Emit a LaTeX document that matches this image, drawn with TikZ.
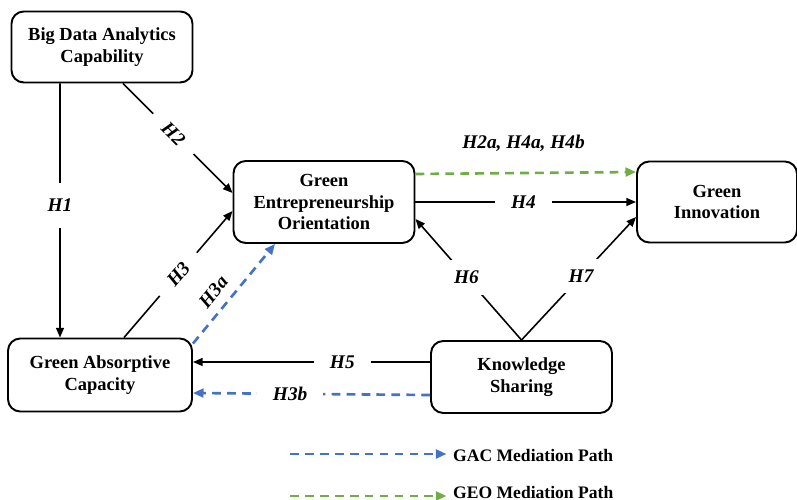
\documentclass[tikz,border=0pt]{standalone}
\usepackage{fontspec}
\setmainfont{Liberation Serif}
\usepackage{tikz}
\usetikzlibrary{arrows.meta}
\definecolor{gacblue}{RGB}{68,114,196}
\definecolor{geogreen}{RGB}{112,173,71}

\begin{document}
\begin{tikzpicture}[line width=0.9pt,
    box/.style={draw, line width=1.1pt, rounded corners=7pt, align=center, inner sep=2pt,
        font=\fontsize{10.5}{12.2}\selectfont\bfseries},
    link/.style={-{Triangle[length=5.5pt,width=4.5pt]}},
    gacpath/.style={gacblue, line width=1.5pt, dash pattern=on 5pt off 3.5pt, -{Triangle[length=6pt,width=5pt]}},
    geopath/.style={geogreen, line width=1.5pt, dash pattern=on 5pt off 3.5pt, -{Triangle[length=6pt,width=5pt]}},
    hyptext/.style={text=black, font=\fontsize{11}{13}\selectfont\bfseries\itshape},
    hyp/.style={hyptext, fill=white, inner xsep=0.32cm, inner ysep=1pt},
    legtext/.style={anchor=west, font=\fontsize{10}{12}\selectfont\bfseries}]
    \useasboundingbox (0,0) rectangle (15.94,-10);

    \node[box, minimum width=3.62cm, minimum height=1.42cm] (bdac) at (2.04,-0.94) {Big Data Analytics\\Capability};
    \node[box, minimum width=3.62cm, minimum height=1.64cm] (geo) at (6.48,-4.04) {Green\\Entrepreneurship\\Orientation};
    \node[box, minimum width=3.2cm, minimum height=1.62cm] (gi) at (14.34,-4.04) {Green\\Innovation};
    \node[box, minimum width=3.68cm, minimum height=1.46cm] (gac) at (2.0,-7.5) {Green Absorptive\\Capacity};
    \node[box, minimum width=3.62cm, minimum height=1.44cm] (ks) at (10.43,-7.54) {Knowledge\\Sharing};

    \draw[link] ([xshift=-0.84cm]bdac.south) -- ([xshift=-0.8cm]gac.north)
        node[hyp, pos=0.48, inner xsep=1pt, inner ysep=0.32cm] {H1};
    \draw[link] ([xshift=0.42cm]bdac.south) -- ([yshift=0.18cm]geo.west) node[hyp, pos=0.46, sloped] {H2};
    \draw[link] ([xshift=0.48cm]gac.north) -- ([yshift=-0.18cm]geo.west) node[hyp, pos=0.5, sloped] {H3};
    \draw[link] (geo.east) -- (gi.west) node[hyp, pos=0.49] {H4};
    \draw[link] ([yshift=0.3cm]ks.west) -- ([yshift=0.26cm]gac.east) node[hyp, pos=0.37] {H5};
    \draw[link] (ks.north) -- ([yshift=-0.34cm]geo.east) node[hyp, pos=0.52, inner sep=0.22cm] {H6};
    \draw[link] (ks.north) -- ([yshift=-0.3cm]gi.west) node[hyp, pos=0.52, inner sep=0.22cm] {H7};

    \draw[gacpath] ([yshift=-0.12cm]gac.north east) -- ([xshift=-0.98cm]geo.south)
        node[hyptext, pos=0.41, sloped, above=2pt] {H3a};
    \draw[gacpath] ([yshift=-0.36cm]ks.west) -- ([yshift=-0.36cm]gac.east) node[hyp, pos=0.59] {H3b};
    \draw[geopath] ([yshift=0.56cm]geo.east) -- ([yshift=0.6cm]gi.west)
        node[hyptext, pos=0.49, above=0.28cm] {H2a, H4a, H4b};

    \node[legtext] (gactxt) at (8.93,-9.1) {GAC Mediation Path};
    \node[legtext] (geotxt) at (8.93,-9.84) {GEO Mediation Path};
    \coordinate (gacleg) at (5.8,-9.08);
    \coordinate (geoleg) at (5.8,-9.92);
    \draw[gacpath] (gacleg) -- (gacleg -| gactxt.west);
    \draw[geopath] (geoleg) -- (geoleg -| geotxt.west);
\end{tikzpicture}
\end{document}
